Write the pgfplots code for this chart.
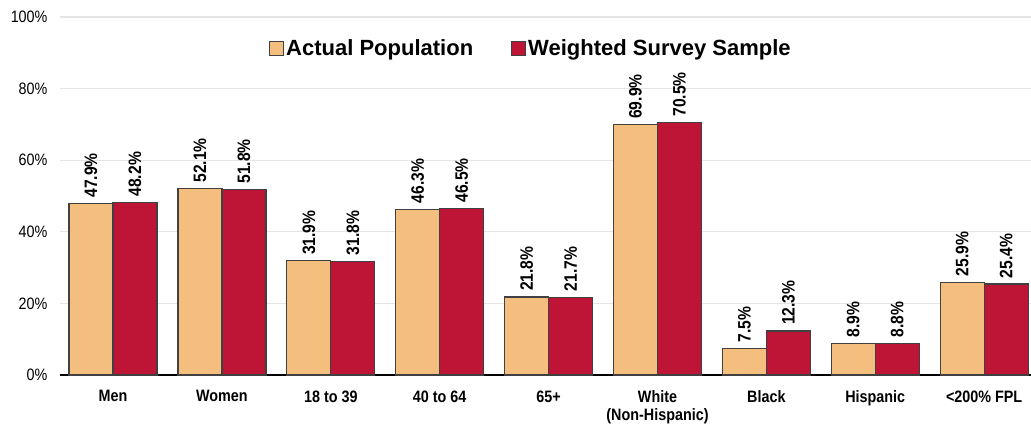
\documentclass[border=0pt]{standalone}
\usepackage{fontspec}
\setmainfont{Liberation Sans}
\newfontfamily\narrow[FakeStretch=0.87]{Liberation Sans}
\usepackage{pgfplots}
\pgfplotsset{compat=1.18}
\definecolor{actual}{RGB}{244,190,126}
\definecolor{weighted}{RGB}{190,20,54}
\definecolor{gridgray}{RGB}{228,228,228}
\begin{document}
\begin{tikzpicture}[x=1pt,y=1pt]
\path[use as bounding box] (-60,-52) rectangle (971,375);
\begin{axis}[
  at={(0,0)}, anchor=south west,
  scale only axis, width=971pt, height=358pt,
  xmin=-0.487, xmax=8.43, ymin=0, ymax=100,
  ybar=0pt, bar width=44pt,
  xtick={0,...,8},
  xticklabels={Men,Women,18 to 39,40 to 64,65+,{White\\(Non-Hispanic)},Black,Hispanic,{<200\% FPL}},
  ytick={0,20,40,60,80,100},
  yticklabel={\pgfmathprintnumber{\tick}\%},
  /pgf/number format/assume math mode=true,
  yticklabel style={font=\narrow\fontsize{16.5}{18}\selectfont, xshift=-9pt},
  xticklabel style={font=\narrow\bfseries\fontsize{16.5}{18.5}\selectfont, align=center, yshift=-12pt},
  ymajorgrids, major grid style={gridgray, line width=1.3pt},
  major tick length=0pt,
  axis lines*=left,
  y axis line style={draw=none},
  x axis line style={-, black, line width=1.3pt},
  clip=false,
  nodes near coords={\pgfmathprintnumber[fixed,fixed zerofill,precision=1]{\pgfplotspointmeta}\%},
  every node near coord/.append style={rotate=90, anchor=west, font=\narrow\bfseries\fontsize{18}{20}\selectfont, inner sep=1pt, outer sep=5pt, black},
  legend style={at={(0.485,0.913)}, anchor=center, draw=none, fill=none,
    font=\bfseries\fontsize{22}{24}\selectfont,
    /tikz/every even column/.append style={column sep=36pt}},
  legend columns=2,
  legend image code/.code={\draw[#1, draw=black!75, line width=1pt] (0pt,-7pt) rectangle (14pt,7pt);},
]
\addplot[fill=actual, draw=black!75, line width=1.2pt] coordinates {
(0,47.9) (1,52.1) (2,31.9) (3,46.3) (4,21.8) (5,69.9) (6,7.5) (7,8.9) (8,25.9)};
\addplot[fill=weighted, draw=black!75, line width=1.2pt] coordinates {
(0,48.2) (1,51.8) (2,31.8) (3,46.5) (4,21.7) (5,70.5) (6,12.3) (7,8.8) (8,25.4)};
\legend{Actual Population, Weighted Survey Sample}
\end{axis}
\end{tikzpicture}
\end{document}
